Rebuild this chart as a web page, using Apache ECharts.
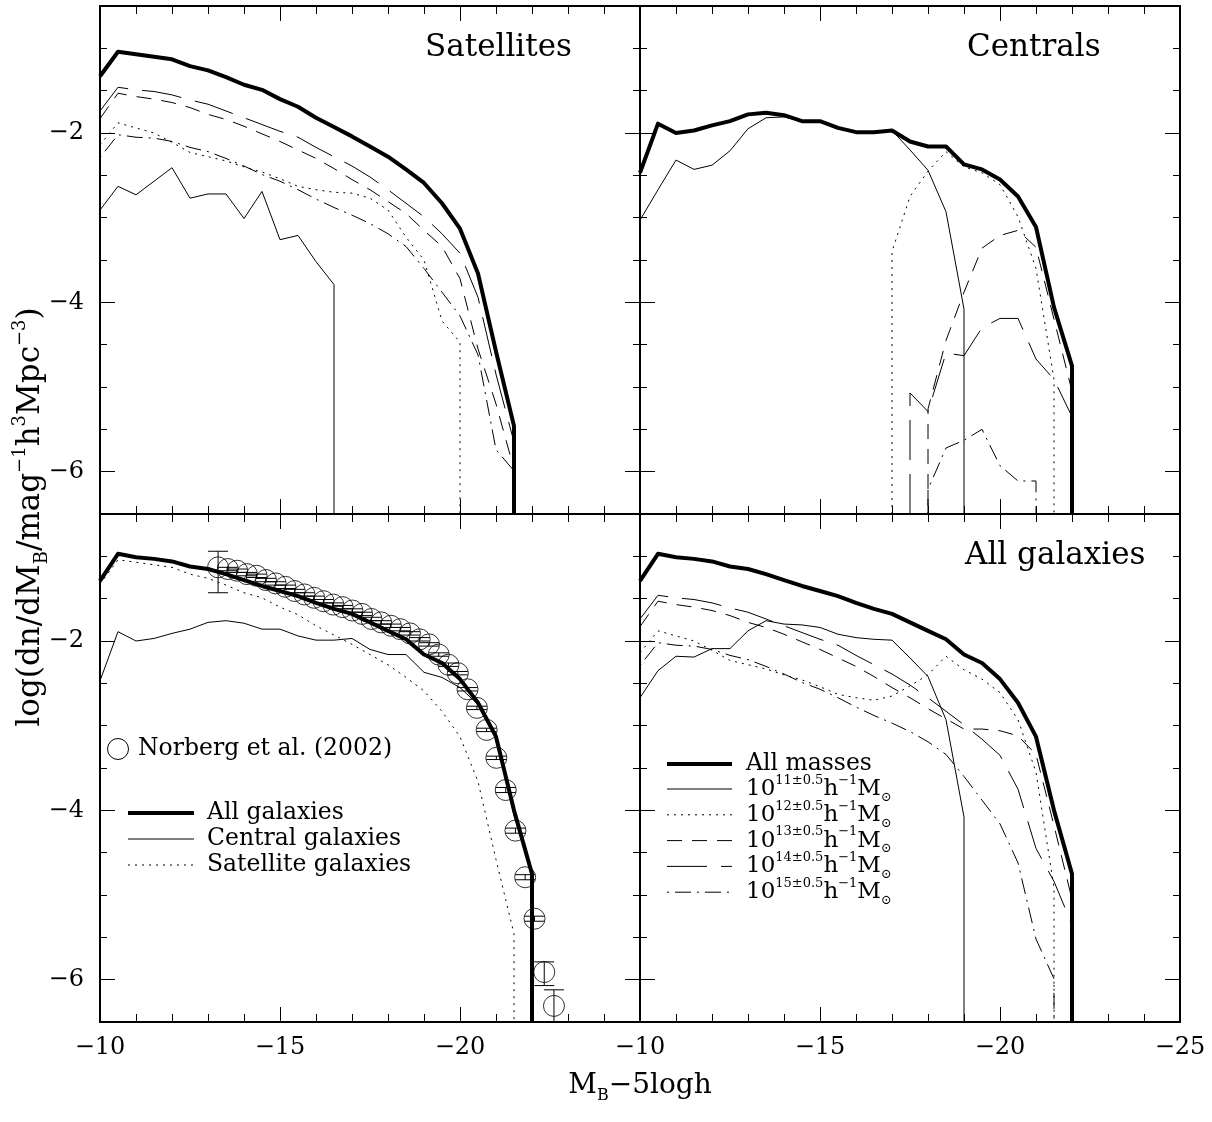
<!DOCTYPE html>
<html>
<head>
<meta charset="utf-8">
<script src="https://cdn.jsdelivr.net/npm/echarts@6/dist/echarts.min.js"></script>
<style>html,body{margin:0;background:#fff}#main{width:1212px;height:1122px}</style>
</head>
<body>
<div id="main"></div>
<script>
var myChart = echarts.init(document.getElementById('main'));

var FONT = '"DejaVu Serif", serif';
var FLOOR = -6.5;   // empty bin: the curve drops to the bottom axis

// magnitude bins, M_B - 5logh
var mags = [-10,-10.5,-11,-11.5,-12,-12.5,-13,-13.5,-14,-14.5,-15,-15.5,-16,-16.5,-17,-17.5,-18,-18.5,-19,-19.5,-20,-20.5,-21,-21.5,-22];

// Satellites panel
var satAll = [-1.33,-1.04,-1.07,-1.10,-1.13,-1.21,-1.26,-1.34,-1.43,-1.49,-1.60,-1.69,-1.82,-1.93,-2.04,-2.16,-2.28,-2.43,-2.59,-2.83,-3.13,-3.66,-4.58,-5.46,null];
var sat11 = [-2.91,-2.63,-2.73,-2.57,-2.41,-2.77,-2.72,-2.72,-3.01,-2.69,-3.26,-3.21,-3.52,-3.79,null,null,null,null,null,null,null,null,null,null,null];
var sat12 = [-2.14,-1.88,-1.94,-2.00,-2.11,-2.23,-2.28,-2.33,-2.40,-2.46,-2.54,-2.63,-2.67,-2.70,-2.71,-2.77,-2.91,-3.23,-3.50,-4.22,-4.47,null,null,null,null];
var sat13 = [-1.83,-1.53,-1.57,-1.60,-1.64,-1.70,-1.78,-1.84,-1.92,-2.01,-2.10,-2.20,-2.30,-2.42,-2.55,-2.67,-2.81,-2.95,-3.15,-3.34,-3.72,-4.55,-5.20,-5.97,null];
var sat14 = [-1.74,-1.46,-1.49,-1.51,-1.55,-1.61,-1.66,-1.74,-1.82,-1.90,-1.98,-2.05,-2.17,-2.28,-2.39,-2.52,-2.67,-2.83,-2.99,-3.19,-3.42,-3.94,-4.85,-5.65,null];
var sat15 = [-2.29,-2.02,-2.05,-2.06,-2.10,-2.17,-2.22,-2.30,-2.39,-2.49,-2.57,-2.67,-2.78,-2.88,-2.97,-3.07,-3.19,-3.34,-3.60,-3.88,-4.16,-4.62,-5.74,-5.99,null];

// Centrals panel
var cenAll = [-2.47,-1.89,-2.00,-1.97,-1.91,-1.86,-1.78,-1.76,-1.79,-1.86,-1.86,-1.94,-1.99,-1.99,-1.97,-2.10,-2.16,-2.16,-2.37,-2.43,-2.55,-2.75,-3.11,-4.06,-4.75];
var cen11 = [-3.03,-2.67,-2.32,-2.43,-2.38,-2.21,-1.95,-1.82,-1.81,-1.86,-1.86,-1.94,-1.99,-1.99,-1.97,-2.20,-2.44,-2.93,-4.08,null,null,null,null,null,null];
var cen12 = [null,null,null,null,null,null,null,null,null,null,null,null,null,null,-3.40,-2.75,-2.45,-2.22,-2.40,-2.47,-2.61,-2.99,-3.60,-4.91,null];
var cen13 = [null,null,null,null,null,null,null,null,null,null,null,null,null,null,null,null,-5.26,-4.45,-3.88,-3.36,-3.21,-3.15,-3.35,-4.20,-5.05];
var cen14 = [null,null,null,null,null,null,null,null,null,null,null,null,null,null,null,-5.07,-5.29,-4.60,-4.63,-4.30,-4.19,-4.19,-4.67,-4.91,-5.35];
var cen15 = [null,null,null,null,null,null,null,null,null,null,null,null,null,null,null,null,-6.21,-5.72,-5.63,-5.50,-5.93,-6.11,-6.11,null,null];

// All galaxies (both lower panels)
var allTot = [-1.29,-0.97,-1.01,-1.03,-1.06,-1.12,-1.15,-1.21,-1.28,-1.35,-1.41,-1.47,-1.55,-1.62,-1.68,-1.78,-1.88,-1.98,-2.16,-2.26,-2.45,-2.73,-3.13,-4.00,-4.75];
var tot11 = [-2.67,-2.35,-2.18,-2.19,-2.09,-2.09,-1.88,-1.76,-1.80,-1.81,-1.84,-1.92,-1.96,-1.98,-1.99,-2.20,-2.42,-2.93,-4.08,null,null,null,null,null,null];
var tot12 = [-2.14,-1.88,-1.94,-2.00,-2.11,-2.23,-2.28,-2.33,-2.40,-2.46,-2.54,-2.63,-2.67,-2.70,-2.65,-2.53,-2.40,-2.18,-2.34,-2.45,-2.61,-2.93,-3.55,-4.91,null];
var tot13 = [-1.83,-1.53,-1.57,-1.60,-1.64,-1.70,-1.78,-1.84,-1.92,-2.01,-2.10,-2.20,-2.30,-2.42,-2.55,-2.67,-2.80,-2.92,-3.04,-3.04,-3.06,-3.12,-3.34,-4.18,-5.05];
var tot14 = [-1.74,-1.46,-1.49,-1.51,-1.55,-1.61,-1.66,-1.74,-1.82,-1.90,-1.98,-2.05,-2.17,-2.28,-2.39,-2.52,-2.67,-2.83,-2.99,-3.16,-3.35,-3.75,-4.45,-4.84,-5.35];
var tot15 = [-2.29,-2.02,-2.05,-2.06,-2.10,-2.17,-2.22,-2.30,-2.39,-2.49,-2.57,-2.67,-2.78,-2.88,-2.97,-3.07,-3.19,-3.34,-3.60,-3.88,-4.16,-4.62,-5.52,-5.99,null];

// Norberg et al. (2002)
var norbMag = [-13.28,-13.55,-13.81,-14.08,-14.35,-14.61,-14.88,-15.15,-15.41,-15.68,-15.95,-16.21,-16.48,-16.74,-17.01,-17.28,-17.54,-17.81,-18.08,-18.34,-18.61,-18.88,-19.14,-19.41,-19.68,-19.94,-20.21,-20.47,-20.74,-21.01,-21.27,-21.54,-21.81,-22.07,-22.34,-22.61];
var norbPhi = [-1.13,-1.15,-1.17,-1.21,-1.23,-1.28,-1.32,-1.36,-1.41,-1.45,-1.49,-1.53,-1.57,-1.60,-1.64,-1.68,-1.74,-1.78,-1.82,-1.86,-1.91,-1.98,-2.04,-2.16,-2.28,-2.38,-2.57,-2.79,-3.05,-3.38,-3.76,-4.24,-4.79,-5.28,-5.91,-6.31];
var norbUp = [0.19,0.02,0.02,0.02,0.02,0.02,0.02,0.02,0.02,0.02,0.02,0.02,0.02,0.02,0.02,0.02,0.02,0.02,0.02,0.02,0.02,0.02,0.02,0.02,0.02,0.02,0.02,0.02,0.02,0.02,0.03,0.03,0.03,0.03,0.12,0.19];
var norbDn = [0.30,0.02,0.02,0.02,0.02,0.02,0.02,0.02,0.02,0.02,0.02,0.02,0.02,0.02,0.02,0.02,0.02,0.02,0.02,0.02,0.02,0.02,0.02,0.02,0.02,0.02,0.02,0.02,0.02,0.02,0.03,0.03,0.03,0.03,0.16,0.30];

var yMajor = [-6, -4, -2];

// line styles (SM style: dotted, short dash, long dash, dot-long dash)
var DOT = [2, 5];
var SHORT = [15, 10];
var LONG = [40, 14];
var DOTDASH = [2, 6, 16, 6];

function minus(v) { return '\u2212' + Math.abs(v); }

function dataOf(vals) {
	var out = [], first = -1, last = -1, i;
	for (i = 0; i < vals.length; i++) {
		if (vals[i] !== null) { if (first < 0) first = i; last = i; }
	}
	if (first > 0) out.push([mags[first], FLOOR]);
	for (i = first; i <= last; i++) out.push([mags[i], vals[i]]);
	out.push([mags[last], FLOOR]);
	return out;
}

function curve(panel, vals, dash, width) {
	return {
		type : 'line',
		xAxisIndex : panel * 2,
		yAxisIndex : panel * 4,
		data : dataOf(vals),
		symbol : 'none',
		silent : true,
		clip : true,
		lineStyle : { color : '#000', width : width || 1, type : dash || 'solid', cap : 'butt', join : 'round' },
		z : 3
	};
}

function xPair(panel, labels, hideLast) {
	var common = {
		gridIndex : panel, type : 'value', min : -25, max : -10, interval : 5, inverse : true,
		splitLine : { show : false },
		axisLine : { onZero : false, lineStyle : { color : '#000', width : 2 } },
		axisTick : { inside : true, length : 15, lineStyle : { color : '#000', width : 1 } },
		minorTick : { show : true, splitNumber : 5, length : 8, lineStyle : { color : '#000', width : 1 } }
	};
	return [
		Object.assign({}, common, { position : 'bottom', axisLabel : {
			show : labels, margin : 14, color : '#000', fontFamily : FONT, fontSize : 24,
			formatter : function(v) { return (hideLast && v === -25) ? '' : minus(v); }
		} }),
		Object.assign({}, common, { position : 'top', axisLabel : { show : false } })
	];
}

function yQuad(panel, labels) {
	var base = { gridIndex : panel, type : 'value', min : -6.5, max : -0.5, splitLine : { show : false } };
	// short ticks every 0.5; labels only at the major values
	function minor(pos, lab) {
		return Object.assign({}, base, {
			position : pos, interval : 0.5,
			axisLine : { onZero : false, lineStyle : { color : '#000', width : 2 } },
			axisTick : { inside : true, length : 7, lineStyle : { color : '#000', width : 1 } },
			axisLabel : { show : lab, margin : 16, color : '#000', fontFamily : FONT, fontSize : 24,
				showMinLabel : false, showMaxLabel : false,
				formatter : function(v) { return yMajor.indexOf(v) >= 0 ? minus(v) : ''; } }
		});
	}
	// long ticks at the major values
	function major(pos) {
		return Object.assign({}, base, {
			position : pos,
			axisLine : { show : false, onZero : false },
			axisTick : { inside : true, length : 15, customValues : yMajor, lineStyle : { color : '#000', width : 1 } },
			axisLabel : { show : false }
		});
	}
	return [ minor('left', labels), major('left'), minor('right', false), major('right') ];
}

function rich(size) {
	var s = Math.round(size * 0.58);
	var lh = Math.round(size * 1.3);
	return {
		n : { fontFamily : FONT, fontSize : size, lineHeight : lh, fill : '#000' },
		sup : { fontFamily : FONT, fontSize : s, lineHeight : s + 2, verticalAlign : 'top', fill : '#000' },
		sub : { fontFamily : FONT, fontSize : s, lineHeight : s + 2, verticalAlign : 'bottom', fill : '#000' }
	};
}

function label(x, y, text, size, align, rot) {
	return {
		type : 'text', x : x, y : y, rotation : rot || 0, silent : true, z : 10,
		style : {
			text : text, fontFamily : FONT, fontSize : size, lineHeight : Math.round(size * 1.3), fill : '#000',
			align : align || 'left', verticalAlign : 'middle', rich : rich(size)
		}
	};
}

function sample(x1, x2, y, dash, width) {
	return {
		type : 'line', silent : true, z : 10,
		shape : { x1 : x1, y1 : y, x2 : x2, y2 : y },
		style : { stroke : '#000', lineWidth : width || 1, lineDash : dash || null, lineCap : 'butt' }
	};
}

var massText = ['11', '12', '13', '14', '15'].map(function(p) {
	return '{n|10}{sup|' + p + '\u00b10.5}{n|h}{sup|\u22121}{n|M}{sub|\u2299}';
});
var massDash = [null, DOT, SHORT, LONG, DOTDASH];

var graphics = [
	label(425, 48, 'Satellites', 31),
	label(967, 48, 'Centrals', 31),
	label(965, 556, 'All galaxies', 31),
	label(640, 1086, '{n|M}{sub|B}{n|\u22125logh}', 28, 'center'),
	label(31, 517, '{n|log(dn/dM}{sub|B}{n|/mag}{sup|\u22121}{n|h}{sup|3}{n|Mpc}{sup|\u22123}{n|)}', 31, 'center', Math.PI / 2),
	{ type : 'circle', silent : true, z : 10, shape : { cx : 118, cy : 749, r : 10.5 }, style : { fill : 'none', stroke : '#000', lineWidth : 1 } },
	label(138, 749, 'Norberg et al. (2002)', 23.5),
	sample(128, 194, 813, null, 4),
	label(207, 813, 'All galaxies', 23.5),
	sample(128, 194, 839, null, 1),
	label(207, 839, 'Central galaxies', 23.5),
	sample(128, 194, 865, DOT, 1),
	label(207, 865, 'Satellite galaxies', 23.5),
	sample(667, 732, 764, null, 4),
	label(746, 764, 'All masses', 23.5)
];
massText.forEach(function(t, i) {
	var y = 789 + i * 25.8;
	graphics.push(sample(667, 732, y, massDash[i], 1));
	graphics.push(label(746, y, t, 23));
});

var series = [
	// Satellites
	curve(0, sat11), curve(0, sat12, DOT), curve(0, sat13, SHORT), curve(0, sat14, LONG), curve(0, sat15, DOTDASH),
	curve(0, satAll, 'solid', 4),
	// Centrals
	curve(1, cen11), curve(1, cen12, DOT), curve(1, cen13, SHORT), curve(1, cen14, LONG), curve(1, cen15, DOTDASH),
	curve(1, cenAll, 'solid', 4),
	// All vs centrals vs satellites
	curve(2, satAll, DOT), curve(2, cenAll), curve(2, allTot, 'solid', 4),
	{
		type : 'custom', xAxisIndex : 4, yAxisIndex : 8, clip : true, silent : true, z : 5,
		data : norbMag.map(function(m, i) { return [m, norbPhi[i], norbUp[i], norbDn[i]]; }),
		encode : { x : 0, y : 1 },
		renderItem : function(params, api) {
			var x = api.value(0), y = api.value(1);
			var top = api.coord([x, y + api.value(2)]);
			var bot = api.coord([x, y - api.value(3)]);
			var st = { stroke : '#000', lineWidth : 1 };
			return { type : 'group', children : [
				{ type : 'line', shape : { x1 : top[0], y1 : top[1], x2 : bot[0], y2 : bot[1] }, style : st },
				{ type : 'line', shape : { x1 : top[0] - 10, y1 : top[1], x2 : top[0] + 10, y2 : top[1] }, style : st },
				{ type : 'line', shape : { x1 : bot[0] - 10, y1 : bot[1], x2 : bot[0] + 10, y2 : bot[1] }, style : st }
			] };
		}
	},
	{
		type : 'scatter', xAxisIndex : 4, yAxisIndex : 8, silent : true, z : 6,
		data : norbMag.map(function(m, i) { return [m, norbPhi[i]]; }),
		symbol : 'circle', symbolSize : 21,
		itemStyle : { color : 'rgba(0,0,0,0)', borderColor : '#000', borderWidth : 1 }
	},
	// All galaxies by halo mass
	curve(3, tot11), curve(3, tot12, DOT), curve(3, tot13, SHORT), curve(3, tot14, LONG), curve(3, tot15, DOTDASH),
	curve(3, allTot, 'solid', 4)
];

option = {
	backgroundColor : '#fff',
	animation : false,
	grid : [
		{ left : 100, top : 6, width : 540, height : 508 },
		{ left : 640, top : 6, width : 540, height : 508 },
		{ left : 100, top : 514, width : 540, height : 508 },
		{ left : 640, top : 514, width : 540, height : 508 }
	],
	xAxis : [].concat(xPair(0, false), xPair(1, false), xPair(2, true, true), xPair(3, true)),
	yAxis : [].concat(yQuad(0, true), yQuad(1, false), yQuad(2, true), yQuad(3, false)),
	graphic : graphics,
	series : series
};
myChart.setOption(option);
</script>
</body>
</html>
